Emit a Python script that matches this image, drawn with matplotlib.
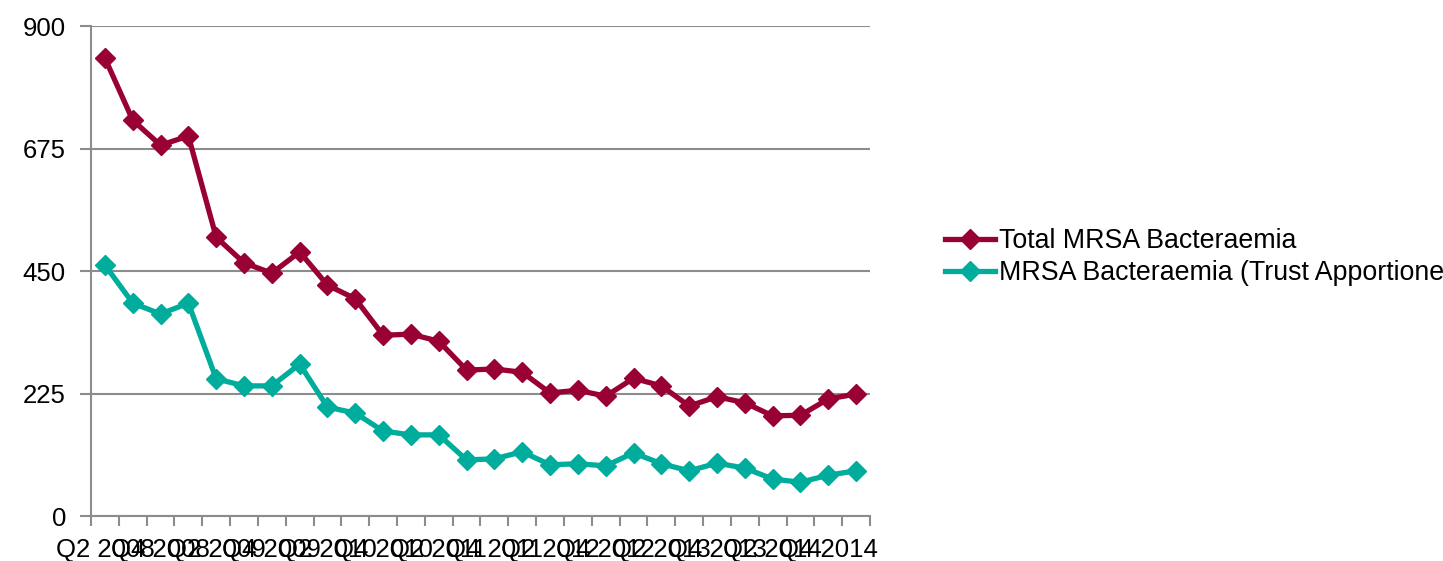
import matplotlib
matplotlib.use("Agg")
import matplotlib.pyplot as plt
import numpy as np

plt.rcParams['font.family'] = ['Liberation Sans', 'DejaVu Sans']

quarters = ["Q2 2008", "Q3 2008", "Q4 2008", "Q1 2009", "Q2 2009", "Q3 2009", "Q4 2009",
            "Q1 2010", "Q2 2010", "Q3 2010", "Q4 2010", "Q1 2011", "Q2 2011", "Q3 2011",
            "Q4 2011", "Q1 2012", "Q2 2012", "Q3 2012", "Q4 2012", "Q1 2013", "Q2 2013",
            "Q3 2013", "Q4 2013", "Q1 2014", "Q2 2014", "Q3 2014", "Q4 2014", "Q1 2015"]
total_mrsa = [841, 727, 681, 698, 512, 465, 446, 485, 424, 399, 332, 334, 321, 268,
              270, 264, 226, 231, 220, 253, 239, 202, 219, 208, 184, 185, 215, 224]
trust_mrsa = [461, 391, 371, 391, 252, 239, 239, 279, 200, 189, 156, 149, 149, 103,
              105, 118, 94, 96, 92, 116, 96, 83, 97, 88, 68, 62, 75, 83]
series_names = ["Total MRSA Bacteraemia", "MRSA Bacteraemia (Trust Apportioned)"]
yticks = [0, 225, 450, 675, 900]

W, H = 1443, 561
fig = plt.figure(figsize=(W / 100, H / 100), dpi=100)
ax = fig.add_axes([91 / W, 1 - 516 / H, (870 - 91) / W, (516 - 26) / H])

x = np.arange(len(quarters))
red = "#990033"
teal = "#00AC9B"
ax.plot(x, total_mrsa, color=red, lw=3.8, marker="D", ms=10.5, label=series_names[0],
        solid_joinstyle="miter", zorder=3)
ax.plot(x, trust_mrsa, color=teal, lw=3.8, marker="D", ms=10.5, label=series_names[1],
        solid_joinstyle="miter", zorder=3)

grid_c = "#8C8C8C"
ax.set_xlim(-0.5, len(quarters) - 0.5)
ax.set_ylim(0, 900)
ax.set_yticks(yticks)
ax.set_yticklabels([str(v) for v in yticks], fontsize=18.5)
ax.yaxis.grid(True, color=grid_c, lw=1.5)
ax.set_axisbelow(True)

# category boundary ticks
ax.set_xticks(np.arange(len(quarters) + 1) - 0.5)
ax.set_xticklabels([])
ax.set_xticks(x[::2], minor=True)
ax.set_xticklabels(quarters[::2], minor=True, fontsize=18.5)
ax.tick_params(axis="x", which="minor", length=0, pad=16)
ax.tick_params(axis="x", which="major", length=7, width=1.5, color=grid_c, direction="out")
ax.tick_params(axis="y", length=8, width=1.5, color=grid_c, pad=10)

for s in ["top", "right"]:
    ax.spines[s].set_visible(False)
for s in ["left", "bottom"]:
    ax.spines[s].set_color(grid_c)
    ax.spines[s].set_linewidth(1.5)

leg = fig.legend(loc="upper left", bbox_to_anchor=(945 / W, 1 - 228 / H), frameon=False,
                 fontsize=19.3, handlelength=1.87, handletextpad=0.15, labelspacing=0.24,
                 borderaxespad=0, borderpad=0)

fig.savefig("out.png", dpi=100)
